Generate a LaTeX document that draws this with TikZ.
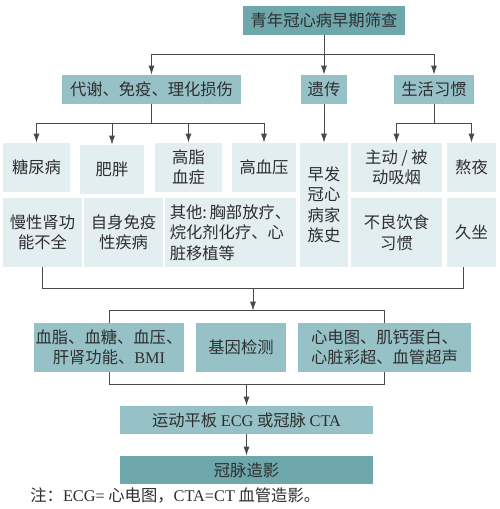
\documentclass[tikz,border=0pt]{standalone}
\usepackage{fontspec}
\setmainfont{Liberation Serif}
\newfontfamily\cjk{Noto Sans CJK SC}
\usetikzlibrary{arrows.meta, calc}
\definecolor{darkc}{HTML}{6FA8AC}
\definecolor{midc}{HTML}{96C2C7}
\definecolor{lightc}{HTML}{E2EEF0}
\definecolor{linec}{HTML}{4A4A4A}
\definecolor{textc}{HTML}{2E2E2E}
\newcommand{\en}[1]{{\rmfamily #1}}

\begin{document}
\begin{tikzpicture}[
    >={Latex[length=9pt, width=6pt]},
    x=1pt, y=-1pt,
    color=linec, line width=0.8pt,
    every node/.style={font=\cjk\fontsize{16.3}{20.5}\selectfont, text=textc},
    box/.style={rectangle, inner sep=0pt, align=center},
    dbox/.style={box, fill=darkc},
    mbox/.style={box, fill=midc},
    lbox/.style={box, fill=lightc}]

  \useasboundingbox (0,0) rectangle (500,509);

  % top and first level
  \node[dbox, minimum width=162, minimum height=29] (top) at (324,20.5) {青年冠心病早期筛查};
  \node[mbox, minimum width=179, minimum height=29] (met) at (151.5,89.5) {代谢、免疫、理化损伤};
  \node[mbox, minimum width=46, minimum height=29] (gen) at (324,89.5) {遗传};
  \node[mbox, minimum width=80, minimum height=29] (life) at (434,89.5) {生活习惯};

  % second level, row 1
  \node[lbox, minimum width=67, minimum height=49] (dm) at (36.5,167.5) {糖尿病};
  \node[lbox, minimum width=64, minimum height=49] (ob) at (112,169.5) {肥胖};
  \node[lbox, minimum width=67, minimum height=49] (hl) at (188.5,167.5) {高脂\\血症};
  \node[lbox, minimum width=64, minimum height=49] (hbp) at (264,167.5) {高血压};
  \node[lbox, minimum width=48, minimum height=124] (fam) at (324,205) {早发\\冠心\\病家\\族史};
  \node[lbox, minimum width=91, minimum height=49] (smk) at (396.5,167.5) {主动 / 被\\动吸烟};
  \node[lbox, minimum width=49, minimum height=49] (night) at (471.5,167.5) {熬夜};
  % row 2
  \node[lbox, minimum width=79, minimum height=69] (ckd) at (42.5,232.5) {慢性肾功\\能不全};
  \node[lbox, minimum width=79, minimum height=69] (aut) at (123.5,232.5) {自身免疫\\性疾病};
  \node[lbox, minimum width=131, minimum height=69, align=left] (oth) at (230.5,232.5) {其他:\,胸部放疗、\\烷化剂化疗、心\\脏移植等};
  \node[lbox, minimum width=91, minimum height=69] (diet) at (396.5,232.5) {不良饮食\\习惯};
  \node[lbox, minimum width=49, minimum height=69] (sit) at (471.5,232.5) {久坐};

  % examinations
  \node[mbox, minimum width=150, minimum height=49] (lab) at (109,347.5) {血脂、血糖、血压、\\肝肾功能、\en{BMI}};
  \node[mbox, minimum width=90, minimum height=49] (gene) at (241,347.5) {基因检测};
  \node[mbox, minimum width=173, minimum height=49] (img) at (384.5,347.5) {心电图、肌钙蛋白、\\心脏彩超、血管超声};
  \node[mbox, minimum width=253, minimum height=28] (ex) at (246.5,420) {运动平板 \en{ECG} 或冠脉 \en{CTA}};
  \node[dbox, minimum width=253, minimum height=28] (cag) at (246.5,470) {冠脉造影};

  \node[anchor=west, inner sep=0pt] (note) at (30,495) {注：\en{ECG=} 心电图，\en{CTA=CT} 血管造影。};

  % top branch
  \coordinate (tb) at ($(top.south)+(0,19)$);
  \draw (top.south) -- (tb);
  \draw (tb -| met) -- (tb -| life);
  \foreach \n in {met,gen,life} \draw[->] (tb -| \n) -- (\n.north);

  % branches to risk factors
  \coordinate (mb) at ($(met.south)+(0,19)$);
  \draw (met.south) -- (mb);
  \draw (mb -| dm) -- (mb -| hbp);
  \foreach \n in {dm,ob,hl,hbp} \draw[->] (mb -| \n) -- (\n.north);
  \draw[->] (gen.south) -- (fam.north);
  \coordinate (lb) at ($(life.south)+(0,19)$);
  \draw (life.south) -- (lb);
  \draw (lb -| smk) -- (lb -| night);
  \foreach \n in {smk,night} \draw[->] (lb -| \n) -- (\n.north);

  % gather
  \coordinate (cr) at ($(sit.south)+(-8,0)$);
  \draw (ckd.south) -- ++(0,21) coordinate (cl) -| (cr);
  \coordinate (in) at (253,288);
  \draw (lab.north) -- ++(0,-12) coordinate (bl) -| (img.north);
  \draw[->] (in) -- (in |- bl);
  \draw (lab.south) -- ++(0,12) coordinate (br) -| (img.south);
  \draw[->] (br -| ex) -- (ex.north);
  \draw[->] (ex) -- (cag);
\end{tikzpicture}
\end{document}
